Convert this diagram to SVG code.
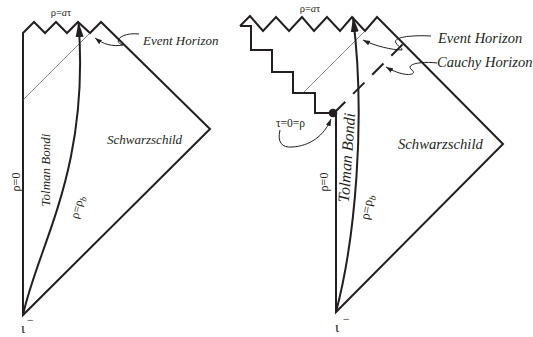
<svg xmlns="http://www.w3.org/2000/svg" width="533" height="337" viewBox="0 0 533 337">
<style>
.thick{fill:none;stroke:#231f20;stroke-width:2;stroke-linejoin:miter}
.thin{fill:none;stroke:#555;stroke-width:0.7}
.lead{fill:none;stroke:#231f20;stroke-width:1}
.t{font-family:"Liberation Serif","Times New Roman",serif;fill:#231f20}
.it{font-style:italic}
</style>
<defs>
<marker id="big" markerUnits="userSpaceOnUse" markerWidth="16" markerHeight="10" viewBox="0 0 16 10" refX="15" refY="5" orient="auto">
<path d="M0,1 L15,5 L0,9 Z" fill="#231f20"/>
</marker>
<marker id="small" markerUnits="userSpaceOnUse" markerWidth="8" markerHeight="6" viewBox="0 0 8 6" refX="7" refY="3" orient="auto">
<path d="M0,0.5 L7,3 L0,5.5 Z" fill="#231f20"/>
</marker>
</defs>

<g id="left-diagram">
<path class="thick" d="M23,315 L23,33 L34,22 L45,33 L56,22 L67,33 L78,22 L90,33 L101,22 L210,129 Z"/>
<path class="thin" d="M23,100 L90,33"/>
<path class="thick" d="M23,315 C38,245 90,170 78.5,22" marker-end="url(#big)"/>
</g>

<g id="right-diagram">
<path class="thick" d="M240,26 L250,16 L263,31 L276,17 L289,31 L302,17 L314,31 L327,17 L340,31 L352,17 L365,31 L377,17 L503,144 L336,312 L336,113"/>
<path class="thick" d="M240,26 L251,26 L251,50 L272,50 L272,72 L293,72 L293,93 L315,93 L315,113 L334,113"/>
<path class="thin" d="M303,93 L365,31"/>
<path class="thick" d="M334,113 L403,44" stroke-dasharray="16 11"/>
<circle cx="333" cy="113" r="4.3" fill="#231f20"/>
<path class="thick" d="M336,312 C355,240 366,120 353,17" marker-end="url(#big)"/>
</g>

<g id="connectors">
<path class="lead" d="M139,34 C121,32 112,42 123,45 C112,47 103,44 95,38" marker-end="url(#small)"/>
<path class="lead" d="M431,36 C412,35 392,37 396,43 C399,48 403,48 402,50 C392,50 375,46 363,40" marker-end="url(#small)"/>
<path class="lead" d="M437,63 C422,61 404,64 412,70 C418,75 405,78 386,67" marker-end="url(#small)"/>
<path class="lead" d="M280,130 C277,142 282,148 292,147 C310,146 324,136 331,119" marker-end="url(#small)"/>
</g>

<g id="labels">
<text class="t" x="61" y="16" font-size="10.5" text-anchor="middle">ρ=<tspan class="it">a</tspan>τ</text>
<text class="t" x="310" y="12" font-size="10.5" text-anchor="middle">ρ=<tspan class="it">a</tspan>τ</text>
<text class="t it" x="143" y="45" font-size="13">Event Horizon</text>
<text class="t it" x="438" y="43" font-size="14.5">Event Horizon</text>
<text class="t it" x="437" y="67" font-size="14.5">Cauchy Horizon</text>
<text class="t it" x="107" y="144" font-size="13">Schwarzschild</text>
<text class="t it" x="398" y="149" font-size="14.7">Schwarzschild</text>
<text class="t" x="276" y="127" font-size="11.5">τ=0=ρ</text>
<text class="t" font-size="12" text-anchor="middle" transform="translate(20,182) rotate(-90)">ρ=0</text>
<text class="t" font-size="12" text-anchor="middle" transform="translate(328,182) rotate(-90)">ρ=0</text>
<text class="t it" font-size="13" text-anchor="middle" transform="translate(50,170) rotate(-90)">Tolman Bondi</text>
<text class="t it" font-size="16" text-anchor="middle" transform="translate(352,158) rotate(-86)">Tolman Bondi</text>
<text class="t" font-size="12" text-anchor="middle" transform="translate(81,208) rotate(-75)">ρ=ρ<tspan class="it" font-size="9" dy="3">b</tspan></text>
<text class="t" font-size="13" text-anchor="middle" transform="translate(371,208) rotate(-80)">ρ=ρ<tspan class="it" font-size="9.5" dy="3">b</tspan></text>
<text class="t" x="21" y="333" font-size="15">ι</text>
<text class="t" x="27" y="324" font-size="12">−</text>
<text class="t" x="335" y="332" font-size="15">ι</text>
<text class="t" x="343" y="323" font-size="12">−</text>
</g>
</svg>
